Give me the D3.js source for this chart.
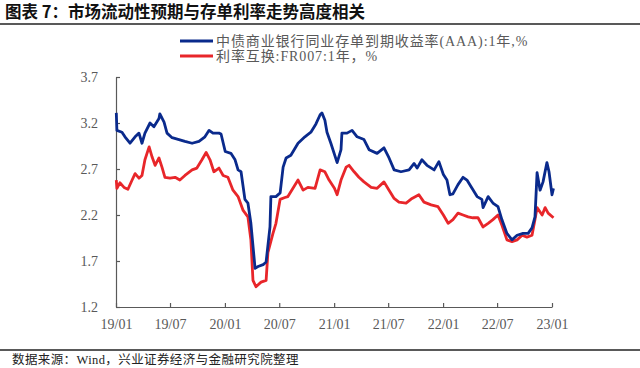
<!DOCTYPE html>
<html>
<head>
<meta charset="utf-8">
<script src="https://cdn.jsdelivr.net/npm/d3@7"></script>
<style>
  html, body { margin: 0; padding: 0; background: #fff; }
  #chart { width: 640px; height: 368px; }
</style>
</head>
<body>
<div id="chart"></div>
<script>
// 图表数据
const seriesNames = ["中债商业银行同业存单到期收益率(AAA):1年,%", "利率互换:FR007:1年，%"];
const seriesColors = ["#0a2a8c", "#e8262a"];

const ncdDates = ["2019-01-02","2019-01-04","2019-01-21","2019-01-31","2019-02-17","2019-03-06","2019-03-19","2019-03-29","2019-04-08","2019-04-25","2019-05-08","2019-05-25","2019-05-28","2019-06-11","2019-06-21","2019-07-08","2019-07-31","2019-08-20","2019-09-13","2019-10-06","2019-10-26","2019-11-09","2019-11-22","2019-12-12","2019-12-19","2020-01-02","2020-01-21","2020-02-04","2020-02-14","2020-02-24","2020-03-08","2020-03-18","2020-03-28","2020-04-11","2020-04-21","2020-05-08","2020-05-18","2020-05-31","2020-06-03","2020-06-20","2020-07-04","2020-07-14","2020-07-24","2020-08-09","2020-09-02","2020-09-25","2020-10-15","2020-11-01","2020-11-15","2020-11-21","2020-12-01","2020-12-08","2020-12-21","2021-01-11","2021-01-24","2021-01-27","2021-02-13","2021-03-02","2021-03-19","2021-04-11","2021-04-28","2021-05-25","2021-06-17","2021-07-04","2021-07-21","2021-08-13","2021-09-09","2021-09-26","2021-10-06","2021-10-22","2021-11-08","2021-12-02","2021-12-18","2022-01-02","2022-01-14","2022-01-24","2022-02-03","2022-02-20","2022-03-09","2022-03-22","2022-04-08","2022-04-25","2022-05-11","2022-05-15","2022-06-01","2022-06-17","2022-07-04","2022-07-17","2022-08-03","2022-08-20","2022-09-06","2022-09-26","2022-10-13","2022-10-26","2022-11-05","2022-11-12","2022-11-22","2022-12-02","2022-12-15","2022-12-22","2023-01-01","2023-01-06"];
const ncdValues = [3.31,3.12,3.10,3.05,2.98,3.05,3.09,2.98,3.09,3.20,3.16,3.25,3.30,3.21,3.09,3.04,3.02,3.00,2.98,3.00,3.05,3.12,3.09,3.09,3.08,2.89,2.87,2.80,2.69,2.67,2.37,2.33,2.11,1.62,1.64,1.66,1.69,2.07,2.40,2.40,2.44,2.72,2.82,2.85,2.98,3.05,3.10,3.19,3.29,3.31,3.23,3.10,2.98,2.77,2.91,3.09,3.09,3.12,3.05,3.02,2.91,2.87,2.93,2.82,2.69,2.67,2.69,2.76,2.71,2.80,2.74,2.69,2.78,2.64,2.58,2.42,2.43,2.53,2.61,2.58,2.49,2.40,2.37,2.28,2.40,2.33,2.29,2.15,2.00,1.93,1.98,2.00,2.00,2.06,2.18,2.66,2.47,2.56,2.77,2.67,2.42,2.49];

const swapDates = ["2019-01-02","2019-01-04","2019-01-14","2019-01-28","2019-02-10","2019-02-24","2019-03-06","2019-03-19","2019-03-29","2019-04-08","2019-04-22","2019-05-02","2019-05-12","2019-05-25","2019-06-04","2019-06-14","2019-07-01","2019-07-18","2019-08-03","2019-08-20","2019-09-13","2019-09-29","2019-10-16","2019-10-30","2019-11-12","2019-11-25","2019-12-12","2019-12-26","2020-01-11","2020-01-28","2020-02-14","2020-03-02","2020-03-18","2020-03-28","2020-04-04","2020-04-14","2020-05-01","2020-05-18","2020-05-24","2020-06-10","2020-06-20","2020-07-04","2020-07-20","2020-07-30","2020-08-16","2020-09-02","2020-09-19","2020-10-05","2020-10-29","2020-11-15","2020-12-01","2020-12-15","2021-01-02","2021-01-11","2021-01-24","2021-02-10","2021-02-20","2021-03-09","2021-03-25","2021-04-11","2021-05-05","2021-05-25","2021-06-17","2021-07-04","2021-07-21","2021-08-06","2021-08-30","2021-09-19","2021-10-12","2021-10-29","2021-11-22","2021-12-15","2022-01-02","2022-01-18","2022-02-03","2022-02-20","2022-03-09","2022-03-26","2022-04-11","2022-04-28","2022-05-15","2022-06-01","2022-06-17","2022-07-04","2022-07-17","2022-08-03","2022-08-20","2022-09-06","2022-09-23","2022-10-09","2022-10-26","2022-11-05","2022-11-12","2022-11-29","2022-12-09","2022-12-19","2023-01-06"];
const swapValues = [2.58,2.49,2.55,2.50,2.48,2.58,2.65,2.60,2.63,2.80,2.94,2.83,2.74,2.82,2.72,2.61,2.60,2.61,2.58,2.63,2.69,2.71,2.80,2.88,2.80,2.67,2.71,2.63,2.61,2.47,2.40,2.25,2.18,1.93,1.49,1.42,1.47,1.49,1.79,2.00,2.11,2.37,2.39,2.40,2.49,2.58,2.47,2.50,2.49,2.69,2.67,2.58,2.49,2.42,2.58,2.72,2.74,2.67,2.61,2.56,2.50,2.49,2.56,2.47,2.38,2.34,2.33,2.38,2.42,2.34,2.31,2.29,2.20,2.11,2.15,2.22,2.20,2.18,2.17,2.17,2.07,2.11,2.15,2.20,2.09,1.93,1.91,1.93,1.98,1.96,1.98,2.15,2.28,2.20,2.28,2.22,2.17];

const yTicks = [1.2, 1.7, 2.2, 2.7, 3.2, 3.7];
const xTickLabels = ["19/01","19/07","20/01","20/07","21/01","21/07","22/01","22/07","23/01"];

document.addEventListener('DOMContentLoaded', () => {
    const width = 640, height = 368;
    const parse = d3.timeParse("%Y-%m-%d");
    const serif = "'Liberation Serif','Noto Sans CJK SC',serif";

    const svg = d3.select("#chart").append("svg")
        .attr("width", width)
        .attr("height", height);

    // 标题
    svg.append("text")
        .attr("x", 5)
        .attr("y", 18)
        .style("font-family", "'Noto Sans CJK SC',sans-serif")
        .style("font-weight", "bold")
        .style("font-size", "16.5px")
        .style("fill", "#111")
        .text("图表 7：市场流动性预期与存单利率走势高度相关");

    svg.append("line")
        .attr("x1", 0).attr("x2", width)
        .attr("y1", 24).attr("y2", 24)
        .style("stroke", "#222").style("stroke-width", 1.5);

    // 比例尺
    const x = d3.scaleTime()
        .domain([parse("2019-01-01"), parse("2023-01-01")])
        .range([116, 552]);
    const y = d3.scaleLinear()
        .domain([1.2, 3.7])
        .range([307, 77]);

    const tickDates = xTickLabels.map(s => parse("20" + s.slice(0, 2) + "-" + s.slice(3) + "-01"));

    // 坐标轴
    const xAxis = svg.append("g")
        .attr("transform", `translate(0,${y(1.2)})`)
        .call(d3.axisBottom(x).tickValues(tickDates).tickSizeInner(-4).tickSizeOuter(0)
            .tickFormat((d, i) => xTickLabels[i]));
    xAxis.select(".domain").style("stroke", "#595959").style("stroke-width", 1.2);
    xAxis.selectAll(".tick line").style("stroke", "#595959").style("stroke-width", 1.2);
    xAxis.selectAll(".tick text")
        .attr("y", 12)
        .style("font-family", serif)
        .style("font-size", "14px")
        .style("fill", "#595959");

    const yAxis = svg.append("g")
        .attr("transform", `translate(${x.range()[0]},0)`)
        .call(d3.axisLeft(y).tickValues(yTicks).tickSizeInner(-4).tickSizeOuter(0)
            .tickFormat(d3.format(".1f")));
    yAxis.select(".domain").style("stroke", "#595959").style("stroke-width", 1.2);
    yAxis.selectAll(".tick line").style("stroke", "#595959").style("stroke-width", 1.2);
    yAxis.selectAll(".tick text")
        .attr("x", -18)
        .style("font-family", serif)
        .style("font-size", "14px")
        .style("fill", "#595959");

    // 折线
    const line = d3.line()
        .x(d => x(d.date))
        .y(d => y(d.value));

    const series = [
        { name: seriesNames[0], color: seriesColors[0], values: ncdDates.map((d, i) => ({ date: parse(d), value: ncdValues[i] })) },
        { name: seriesNames[1], color: seriesColors[1], values: swapDates.map((d, i) => ({ date: parse(d), value: swapValues[i] })) }
    ];

    svg.selectAll(".series")
        .data(series.slice().reverse())
        .enter()
        .append("path")
        .attr("class", "series")
        .attr("d", d => line(d.values))
        .style("fill", "none")
        .style("stroke", d => d.color)
        .style("stroke-width", 2.8)
        .style("stroke-linejoin", "round");

    // 图例
    const legend = svg.selectAll(".legend")
        .data(series)
        .enter()
        .append("g")
        .attr("class", "legend")
        .attr("transform", (d, i) => `translate(180,${41 + i * 15})`);

    legend.append("line")
        .attr("x1", 0).attr("x2", 33)
        .style("stroke", d => d.color)
        .style("stroke-width", 2.8);

    legend.append("text")
        .attr("x", 36)
        .attr("y", 5)
        .style("font-family", serif)
        .style("font-size", "14px")
        .style("letter-spacing", "0.9px")
        .style("fill", "#595959")
        .text(d => d.name);

    // 底部来源
    svg.append("line")
        .attr("x1", 0).attr("x2", width)
        .attr("y1", 350).attr("y2", 350)
        .style("stroke", "#222").style("stroke-width", 1.5);

    svg.append("text")
        .attr("x", 12)
        .attr("y", 364)
        .style("font-family", serif)
        .style("font-size", "12.5px")
        .style("letter-spacing", "0.4px")
        .style("fill", "#222")
        .text("数据来源：Wind，兴业证券经济与金融研究院整理");
});
</script>
</body>
</html>
